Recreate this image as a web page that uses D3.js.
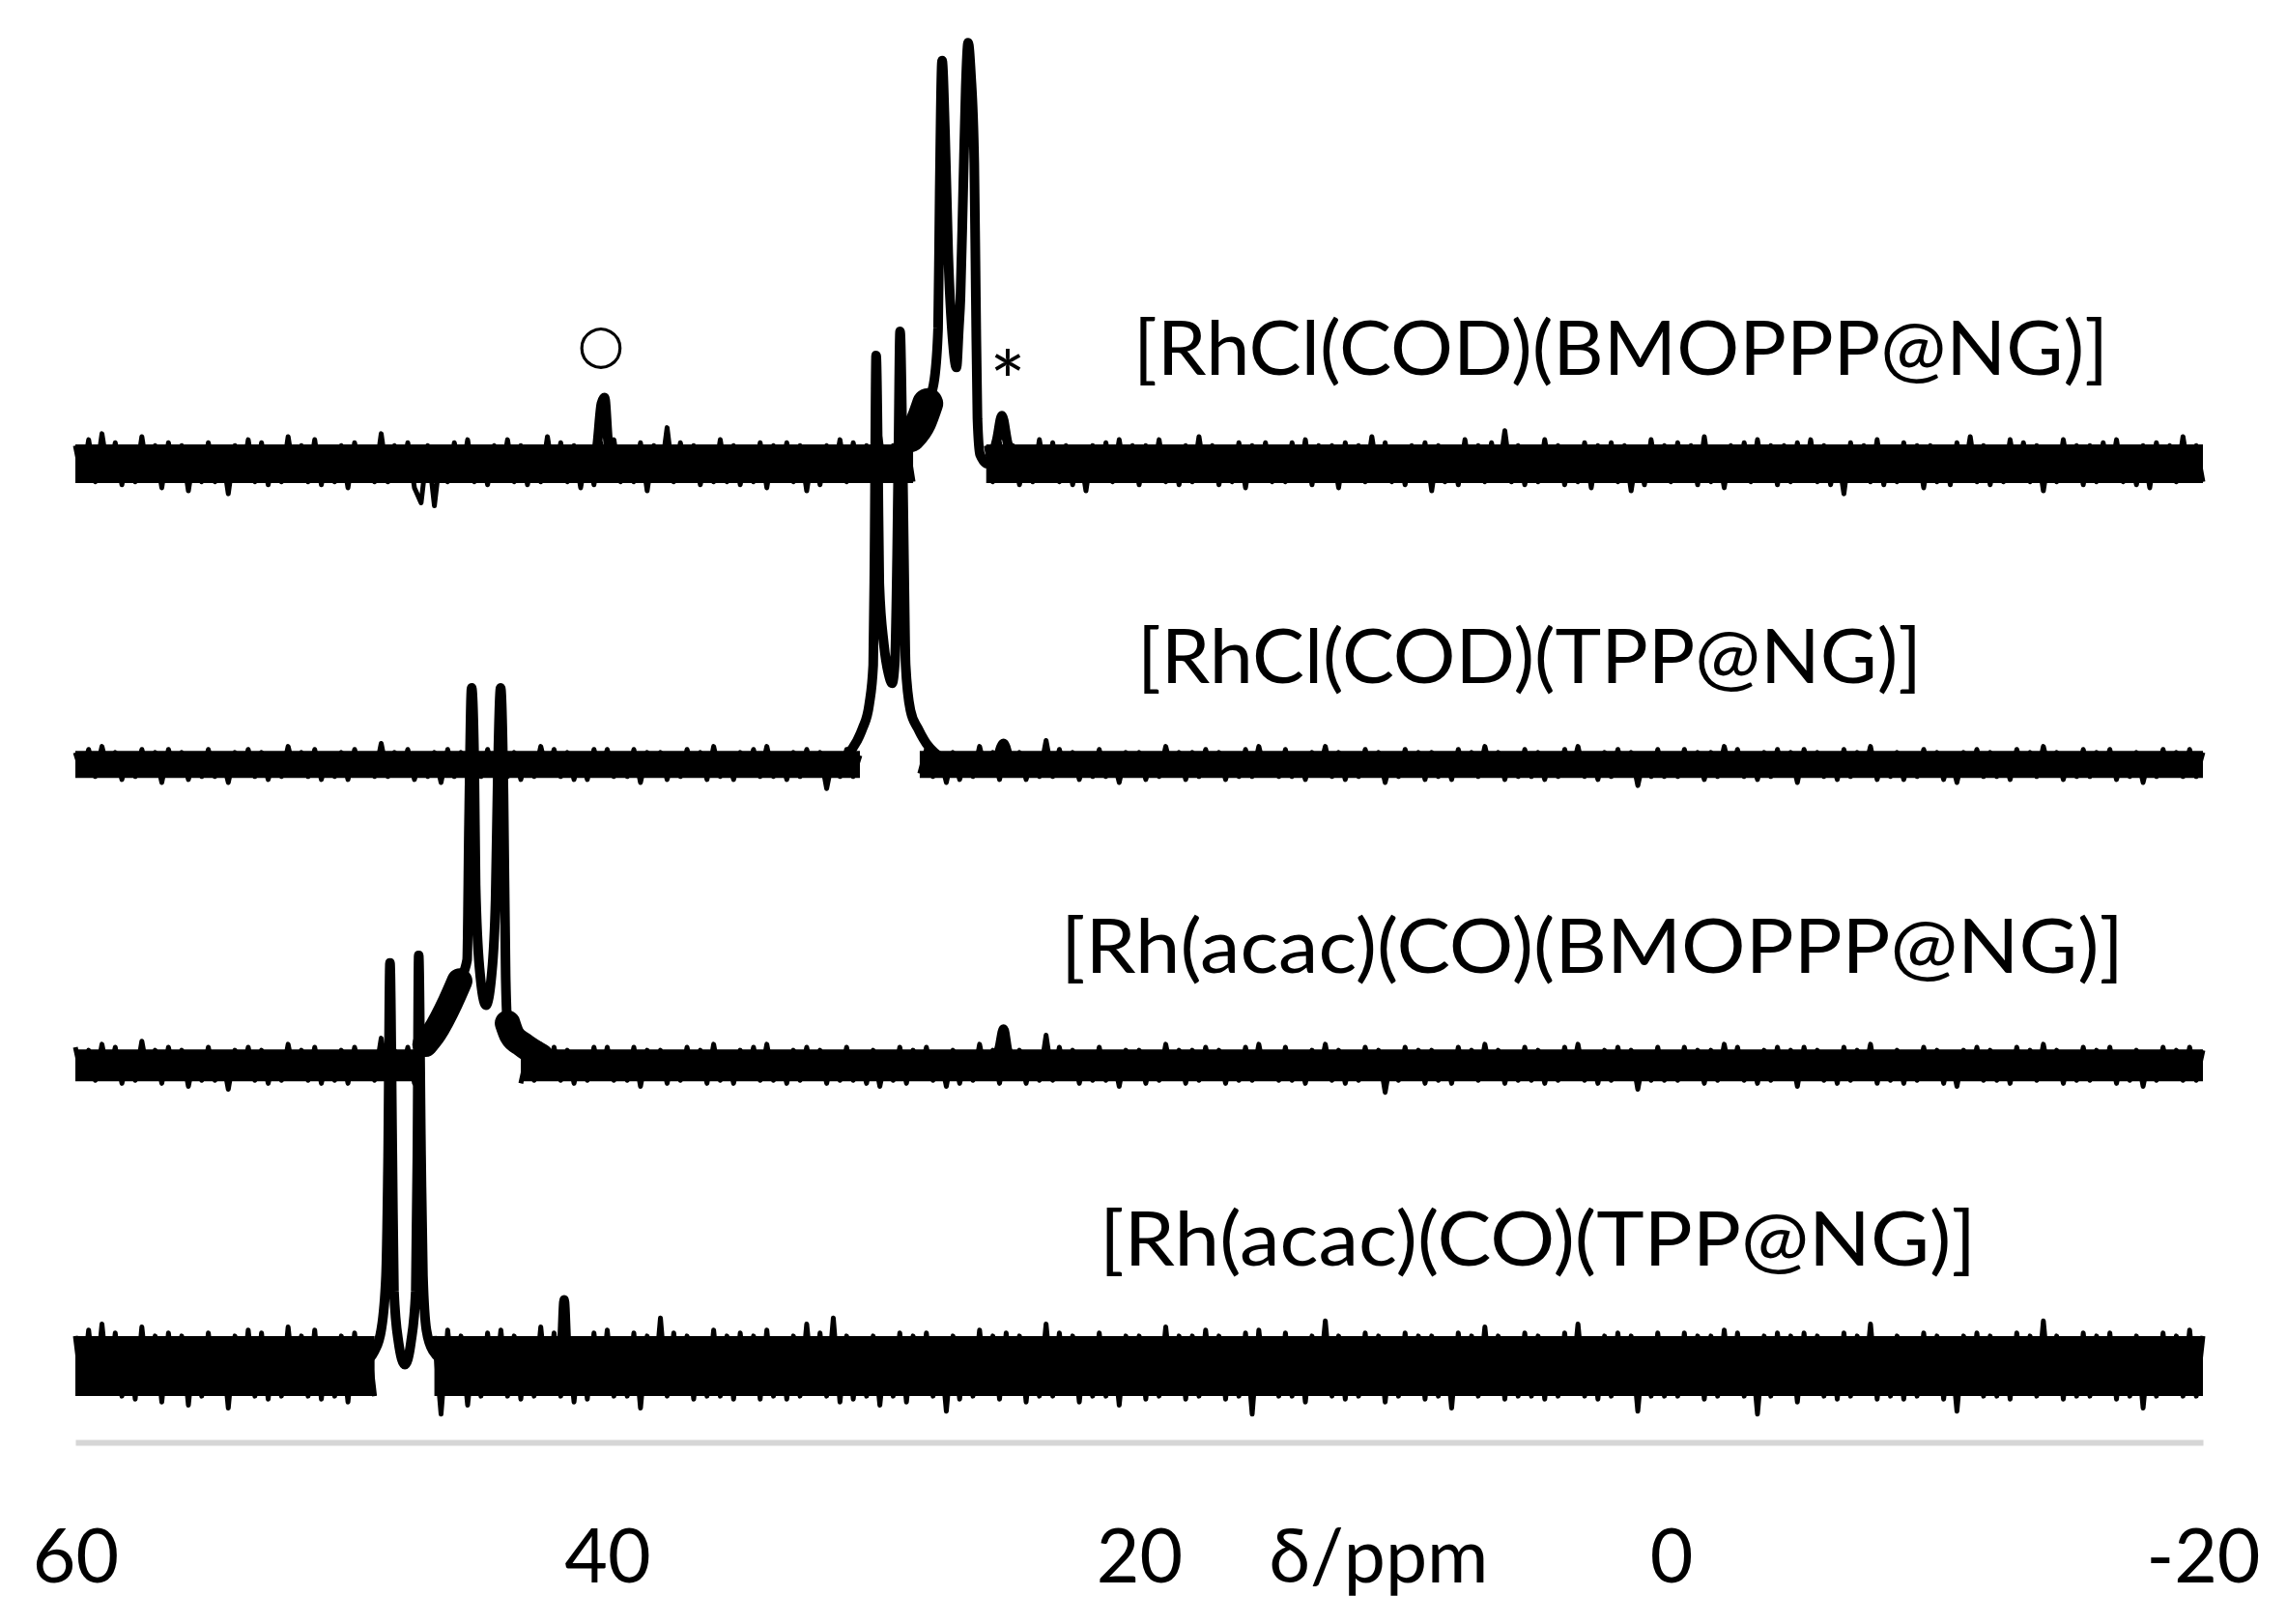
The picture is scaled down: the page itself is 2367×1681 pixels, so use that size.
<!DOCTYPE html>
<html>
<head>
<meta charset="utf-8">
<script src="https://cdn.jsdelivr.net/npm/d3@7"></script>
<style>
  body { margin: 0; background: #fff; }
  text { font-family: Lato, "Open Sans", sans-serif; fill: #000; }
</style>
</head>
<body>
<svg width="2367" height="1681"></svg>
<script>
// spectrum labels, top to bottom
var names = ["[RhCl(COD)(BMOPPP@NG)]", "[RhCl(COD)(TPP@NG)]", "[Rh(acac)(CO)(BMOPPP@NG)]", "[Rh(acac)(CO)(TPP@NG)]"];
// vertical stacking offset of each spectrum (a.u.)
var offsets = [3, 2, 1, 0];
var ticks = [60, 40, 20, 0, -20];
var axisTitle = "\u03b4/ppm";

// signal shape of each spectrum, [ppm, intensity]
var s1Signal = [[60,0],[40.7,0],[40.4,0.05],[40.22,0.2],[40.1,0.22],[39.95,0.06],[39.6,0],[29.1,0],[28.6,0.09],[28.2,0.14],[27.95,0.2],[27.7,0.28],[27.56,0.45],[27.5,0.9],[27.41,1.34],[27.3,1.1],[27.18,0.7],[27.0,0.4],[26.87,0.32],[26.78,0.45],[26.72,0.55],[26.62,0.9],[26.52,1.25],[26.43,1.4],[26.33,1.3],[26.2,1.0],[26.14,0.55],[26.08,0.15],[25.98,0.03],[25.7,0],[25.35,0.08],[25.16,0.16],[24.95,0.07],[24.7,0],[-20,0]];
var s2Signal = [[60,0],[31.6,0],[31.0,0.03],[30.6,0.08],[30.4,0.12],[30.15,0.2],[30.0,0.33],[29.95,0.7],[29.89,1.36],[29.82,1.0],[29.77,0.6],[29.6,0.4],[29.42,0.3],[29.29,0.27],[29.18,0.35],[29.1,0.7],[29.05,1.05],[28.99,1.44],[28.9,1.05],[28.83,0.6],[28.78,0.33],[28.6,0.18],[28.32,0.12],[28.0,0.07],[27.7,0.04],[27.2,0.01],[26.9,0],[25.45,0],[25.1,0.07],[24.8,0],[-20,0]];
var s3Signal = [[60,0],[47.3,0],[46.85,0.07],[46.5,0.11],[45.9,0.21],[45.55,0.28],[45.27,0.35],[45.2,0.8],[45.1,1.255],[45.0,1.0],[44.95,0.6],[44.8,0.32],[44.56,0.2],[44.35,0.3],[44.2,0.55],[44.12,0.95],[44.01,1.255],[43.9,0.9],[43.82,0.3],[43.75,0.14],[43.58,0.1],[43.2,0.07],[42.5,0.03],[41.5,0],[25.6,0],[25.25,0.06],[25.1,0.12],[24.95,0.05],[24.6,0],[-20,0]];
var s4Signal = [[60,0],[49.5,0],[49.0,0.02],[48.75,0.05],[48.5,0.12],[48.32,0.3],[48.24,0.7],[48.17,1.34],[48.08,0.7],[48.02,0.25],[47.85,0.08],[47.61,0.005],[47.38,0.08],[47.2,0.25],[47.14,0.7],[47.09,1.365],[47.0,0.7],[46.93,0.3],[46.8,0.12],[46.55,0.05],[46.0,0.01],[45.5,0],[41.9,0],[41.72,0.05],[41.62,0.22],[41.52,0.05],[41.35,0],[-20,0]];

// ppm range where the baseline noise gives way to the peaks
var s1Gap = [28.5, 25.95];
var s2Gap = [30.4, 28.3];
var s3Gap = [46.9, 43.4];
var s4Gap = [48.6, 46.6];
// ppm ranges of broad, noisy peak feet
var s1Feet = [[28.7, 27.9]];
var s2Feet = [];
var s3Feet = [[46.9, 45.5], [43.76, 42.4]];
var s4Feet = [];

// baseline noise, one value every 0.25 ppm from 60 to -20 (hundredths of a.u.)
var noiseStep = 0.25;
var s1Noise = [
6,-5,8,-6,10,-4,7,-7,5,-6,9,-5,6,-8,7,-5,6,-9,5,-6,
7,-6,5,-10,6,-5,8,-6,7,-7,5,-6,9,-5,6,-6,8,-7,5,-6,
6,-8,7,-5,5,-6,10,-6,6,-5,7,-8,-13,6,-14,5,-6,7,-5,8,
-6,5,-7,6,-5,8,-6,6,-7,5,-6,9,-5,7,-6,6,-8,5,-7,7,
-5,8,-6,5,-6,7,-9,6,-5,12,-6,7,-5,6,-7,5,-6,8,-6,6,
-7,5,-6,7,-8,6,-5,7,-6,6,-9,5,-7,6,-5,8,-6,7,-5,6,
-6,9,-5,6,-7,8,-6,5,-7,6,-5,10,-6,7,-5,6,-8,6,-6,7,
-5,6,-7,5,-6,8,-5,7,-6,6,-7,5,-9,6,-5,7,-6,8,-5,6,
-7,6,-5,8,-6,5,-7,6,-6,9,-5,6,-7,5,-6,7,-8,6,-5,7,
-6,5,-6,7,-5,8,-7,6,-5,6,-8,7,-5,6,-6,9,-5,7,-6,5,
-7,6,-5,7,-9,6,-6,5,-7,8,-5,6,-6,7,-5,11,-6,6,-7,5,
-6,8,-5,6,-7,5,-6,7,-8,6,-5,7,-6,6,-9,5,-7,8,-5,6,
-6,7,-5,6,-7,9,-6,5,-8,6,-5,7,-6,8,-5,6,-7,6,-6,7,
-5,8,-6,6,-7,5,-10,7,-5,6,-6,8,-7,5,-6,7,-5,6,-8,6,
-6,5,-7,7,-5,9,-6,6,-7,5,-6,8,-5,7,-6,6,-9,5,-6,8,
-5,6,-7,6,-6,7,-5,8,-6,5,-7,6,-8,7,-5,6,-6,9,-5,6,
-6];
var s2Noise = [
4,-3,5,-4,6,-3,4,-5,3,-4,5,-3,4,-6,5,-3,4,-5,3,-4,
5,-4,3,-6,4,-3,5,-4,4,-5,3,-4,6,-3,4,-4,5,-5,3,-4,
4,-5,5,-3,3,-4,7,-4,4,-3,5,-5,3,-4,4,-6,5,-4,4,-5,
3,-4,5,-3,5,-4,4,-5,3,-4,6,-3,5,-4,4,-5,3,-5,5,-3,
5,-4,3,-4,5,-6,4,-3,4,-5,3,-4,5,-3,4,-5,6,-4,3,-5,
4,-3,5,-4,6,-4,3,-5,4,-4,5,-3,4,-8,3,-4,5,-4,3,-5,
4,-6,3,-4,5,-5,4,-3,5,-4,3,-6,4,-5,3,-4,6,-3,4,-5,
5,-3,4,-5,3,-4,8,-4,5,-3,4,-5,3,-4,5,-4,3,-6,4,-3,
4,-5,3,-4,6,-3,4,-5,4,-4,5,-3,4,-5,3,-4,5,-4,6,-3,
3,-4,5,-4,3,-5,4,-3,6,-4,4,-5,3,-4,5,-3,4,-6,3,-4,
5,-3,4,-5,4,-4,3,-5,5,-3,4,-4,6,-3,4,-5,3,-4,5,-4,
4,-5,3,-4,5,-3,6,-4,3,-5,4,-4,5,-3,4,-7,3,-4,5,-4,
3,-4,5,-3,4,-5,4,-4,6,-3,5,-4,3,-5,4,-4,5,-3,4,-6,
5,-3,4,-4,3,-5,5,-4,4,-3,6,-5,3,-4,4,-5,3,-4,5,-3,
4,-5,3,-6,4,-3,5,-4,4,-4,3,-5,5,-3,4,-4,6,-3,4,-5,
3,-4,5,-4,4,-3,5,-5,3,-4,4,-6,3,-4,5,-3,4,-4,5,-4,
4];
var s3Noise = [
6,-4,5,-5,7,-4,6,-6,4,-5,8,-4,5,-6,6,-4,5,-7,4,-5,
6,-5,4,-8,5,-4,6,-5,5,-6,4,-5,7,-4,5,-5,6,-6,4,-5,
5,-6,6,-4,4,-5,9,-5,5,-4,6,-6,4,-5,5,-7,6,-4,5,-6,
4,-5,6,-4,6,-5,5,-6,4,-5,7,-4,6,-5,5,-6,4,-5,6,-4,
6,-5,4,-5,6,-7,5,-4,5,-6,4,-5,6,-4,5,-6,7,-5,4,-6,
5,-4,6,-5,7,-5,4,-6,5,-5,6,-4,5,-6,4,-5,6,-5,4,-6,
5,-7,4,-5,6,-6,5,-4,6,-5,4,-7,5,-6,4,-5,7,-4,5,-6,
6,-4,5,-6,4,-5,10,-5,6,-4,5,-6,4,-5,6,-5,4,-7,5,-4,
5,-6,4,-5,7,-4,5,-6,5,-5,6,-4,5,-6,4,-5,6,-5,7,-4,
4,-5,6,-5,4,-6,5,-4,7,-5,5,-6,4,-5,6,-4,5,-9,4,-5,
6,-4,5,-6,5,-5,4,-6,6,-4,5,-5,7,-4,5,-6,4,-5,6,-5,
5,-6,4,-5,6,-4,7,-5,4,-6,5,-5,6,-4,5,-8,4,-5,6,-5,
4,-5,6,-4,5,-6,5,-5,7,-4,6,-5,4,-6,5,-5,6,-4,5,-7,
6,-4,5,-5,4,-6,6,-5,5,-4,7,-6,4,-5,5,-6,4,-5,6,-4,
5,-6,4,-7,5,-4,6,-5,5,-5,4,-6,6,-4,5,-5,7,-4,5,-6,
4,-5,6,-5,5,-4,6,-6,4,-5,5,-7,4,-5,6,-4,5,-5,6,-5,
5];
var s4Noise = [
10,-8,12,-9,14,-8,11,-10,9,-11,13,-8,10,-12,11,-9,10,-13,9,-10,
11,-9,9,-14,10,-8,12,-10,11,-11,9,-10,13,-8,10,-10,12,-11,9,-10,
10,-12,11,-9,9,-10,15,-10,10,-9,11,-12,9,-10,10,-16,12,-9,10,-13,
9,-10,11,-9,12,-10,10,-11,9,-10,13,-9,11,-10,10,-12,9,-11,11,-9,
12,-10,9,-10,11,-14,10,-9,16,-10,11,-9,10,-11,9,-10,12,-10,10,-11,
11,-9,10,-11,12,-10,9,-11,10,-10,14,-9,11,-10,16,-12,10,-11,9,-10,
10,-13,9,-10,11,-12,10,-9,11,-10,9,-15,10,-11,9,-10,12,-9,10,-11,
11,-9,10,-12,9,-10,14,-10,11,-9,10,-12,9,-10,11,-10,9,-13,10,-9,
10,-11,9,-10,13,-9,10,-11,10,-10,12,-9,10,-11,9,-10,11,-16,12,-9,
9,-10,11,-10,9,-12,10,-9,15,-10,10,-11,9,-10,11,-9,10,-12,9,-10,
11,-9,10,-11,10,-10,9,-14,11,-9,10,-10,13,-9,10,-11,9,-10,11,-10,
10,-11,9,-10,11,-9,14,-10,9,-11,10,-10,11,-9,10,-15,9,-10,11,-10,
9,-10,11,-9,10,-11,10,-10,12,-9,11,-10,9,-16,10,-10,11,-9,10,-12,
11,-9,10,-10,9,-11,11,-10,10,-9,14,-11,9,-10,10,-11,9,-10,11,-9,
10,-11,9,-15,10,-9,11,-10,10,-10,9,-11,11,-9,10,-10,15,-9,10,-11,
9,-10,11,-10,10,-9,11,-11,9,-10,10,-14,9,-10,11,-9,10,-10,12,-10,
10];

var svg = d3.select("svg"),
    width = +svg.attr("width"),
    height = +svg.attr("height");

var x = d3.scaleLinear().domain([60, -20]).range([78, 2280]);
var y = d3.scaleLinear().domain([0, 3]).range([1414, 480]);

var spectra = [
  {signal: s1Signal, noise: s1Noise, gap: s1Gap, feet: s1Feet, off: offsets[0]},
  {signal: s2Signal, noise: s2Noise, gap: s2Gap, feet: s2Feet, off: offsets[1]},
  {signal: s3Signal, noise: s3Noise, gap: s3Gap, feet: s3Feet, off: offsets[2]},
  {signal: s4Signal, noise: s4Noise, gap: s4Gap, feet: s4Feet, off: offsets[3]}
];
// thickness of the solid middle of each noise band (px)
var coreWidth = [40, 28, 33, 62];

// x axis first so the traces sit on top
var axis = svg.append("g")
    .attr("transform", "translate(0,1493)")
    .call(d3.axisBottom(x).tickValues(ticks).tickSize(0).tickFormat(function(d) { return String(d); }));
axis.select(".domain").attr("stroke", "#d6d6d6").attr("stroke-width", 6);
axis.selectAll("text")
    .attr("y", 145).attr("dy", 0)
    .style("font-family", "Lato, 'Open Sans', sans-serif")
    .style("font-size", "77px")
    .attr("fill", "#000");

svg.append("text")
    .attr("x", 1427).attr("y", 1638)
    .attr("text-anchor", "middle")
    .style("font-size", "77px")
    .text(axisTitle);

var g = svg.append("g");

spectra.forEach(function(s, k) {
  var pts = s.noise.map(function(n, i) { return [60 - i * noiseStep, n / 100]; });
  var outside = function(d) { return !(d[0] < s.gap[0] && d[0] > s.gap[1]); };
  var onFoot = function(d) {
    return s.feet.some(function(r) { return d[0] <= r[0] && d[0] >= r[1]; });
  };

  // solid core of the band
  g.append("path")
      .datum(pts)
      .attr("fill", "none")
      .attr("stroke", "#000")
      .attr("stroke-width", coreWidth[k])
      .attr("d", d3.line().defined(outside)
          .x(function(d) { return x(d[0]); })
          .y(function() { return y(s.off); }));

  // jagged noise
  g.append("path")
      .datum(pts)
      .attr("fill", "none")
      .attr("stroke", "#000")
      .attr("stroke-width", 5)
      .attr("stroke-linejoin", "round")
      .attr("d", d3.line().defined(outside)
          .x(function(d) { return x(d[0]); })
          .y(function(d) { return y(s.off + d[1]); }));

  // noisy band carried up the broad peak feet
  if (s.feet.length) {
    g.append("path")
        .datum(s.signal)
        .attr("fill", "none")
        .attr("stroke", "#000")
        .attr("stroke-width", coreWidth[k] * 0.8)
        .attr("stroke-linecap", "round")
        .attr("d", d3.line().defined(onFoot).curve(d3.curveMonotoneX)
            .x(function(d) { return x(d[0]); })
            .y(function(d) { return y(s.off + d[1]); }));
  }

  // peaks
  g.append("path")
      .datum(s.signal)
      .attr("fill", "none")
      .attr("stroke", "#000")
      .attr("stroke-width", 10)
      .attr("stroke-linejoin", "round")
      .attr("d", d3.line().curve(d3.curveMonotoneX)
          .x(function(d) { return x(d[0]); })
          .y(function(d) { return y(s.off + d[1]); }));
});

// sample labels: left edge, baseline, width
var labelPos = [[1173, 388, 1009], [1177, 707, 812], [1098, 1007, 1100], [1138, 1310, 907]];
svg.selectAll(".lab")
    .data(names)
  .enter().append("text")
    .attr("class", "lab")
    .attr("x", function(d, i) { return labelPos[i][0]; })
    .attr("y", function(d, i) { return labelPos[i][1]; })
    .attr("textLength", function(d, i) { return labelPos[i][2]; })
    .attr("lengthAdjust", "spacingAndGlyphs")
    .style("font-size", "77px")
    .text(function(d) { return d; });

// peak markers
svg.append("text")
    .attr("x", 622).attr("y", 375)
    .attr("text-anchor", "middle")
    .style("font-family", "'DejaVu Sans'")
    .style("font-size", "56px")
    .text("\u25cb");
svg.append("text")
    .attr("x", 1043).attr("y", 427)
    .attr("text-anchor", "middle")
    .style("font-size", "88px")
    .text("*");
</script>
</body>
</html>
